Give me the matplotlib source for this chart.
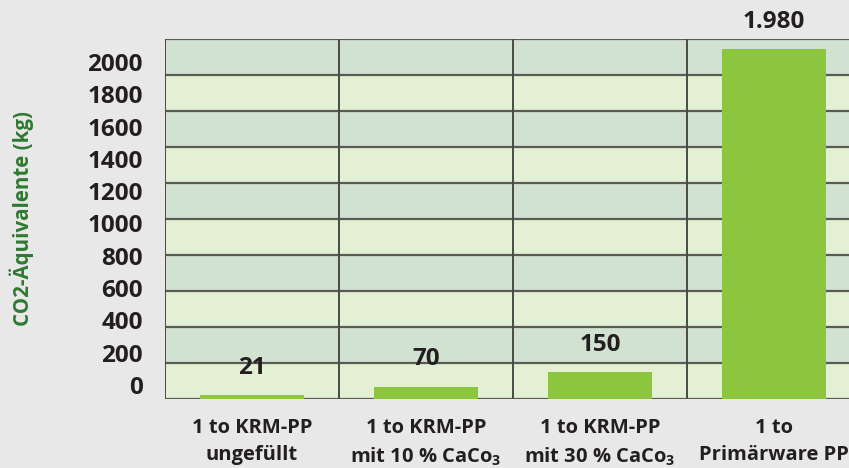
import matplotlib
matplotlib.use("Agg")
import matplotlib.pyplot as plt
import numpy as np

categories = ["1 to KRM-PP\nungefüllt", "1 to KRM-PP\nmit 10 % CaCo$_{\\mathbf{3}}$",
              "1 to KRM-PP\nmit 30 % CaCo$_{\\mathbf{3}}$", "1 to\nPrimärware PP"]
values = [21, 70, 150, 1980]
value_labels = ["21", "70", "150", "1.980"]
tick_values = list(range(0, 2001, 200))

FONT = ["Open Sans", "DejaVu Sans"]
plt.rcParams["font.family"] = FONT
plt.rcParams["font.weight"] = "bold"
plt.rcParams["mathtext.fontset"] = "custom"
plt.rcParams["mathtext.rm"] = "Open Sans:bold"
plt.rcParams["mathtext.bf"] = "Open Sans:bold"
plt.rcParams["mathtext.it"] = "Open Sans:bold"

W, H = 849, 468
fig = plt.figure(figsize=(W / 100, H / 100), dpi=100)
fig.patch.set_facecolor("#e8e8e8")

left, right, top, bottom = 165, 861, 39, 399
ax = fig.add_axes([left / W, 1 - bottom / H, (right - left) / W, (bottom - top) / H])
ax.set_facecolor("#e3f0d4")

ymax = 1980 * 360 / 350
ax.set_ylim(0, ymax)
ax.set_xlim(-0.5, len(categories) - 0.5)

# bands
nb = 10
for i in range(nb):
    y0 = i / nb
    color = "#d2e2d0" if i % 2 == 1 else "#e3f0d4"
    ax.axhspan(y0 * ymax, (y0 + 1 / nb) * ymax, color=color, zorder=0, lw=0)
for i in range(nb + 1):
    ax.axhline((i / nb) * ymax, color="#5a5a55", lw=1.6, zorder=1)
for i in range(len(categories) + 1):
    ax.axvline(i - 0.5, color="#4a4a45", lw=1.4, zorder=1)

x = np.arange(len(categories))
ax.bar(x, values, width=0.6, color="#8cc63f", zorder=2)
for xi, v, lab in zip(x, values, value_labels):
    ax.annotate(lab, (xi, v), xytext=(0, 11), textcoords="offset points",
                ha="center", va="bottom", fontsize=17.5, fontweight="bold",
                color="#231f20", annotation_clip=False)

for s in ax.spines.values():
    s.set_visible(False)
ax.set_yticks([])
ax.set_xticks(x)
ax.set_xticklabels(categories, fontsize=14.5, fontweight="bold", color="#231f20",
                   linespacing=1.45)
ax.tick_params(axis="x", length=0, pad=14)

# tick label axis
ax2 = ax.twinx()
per_px = 2000 / (385 - 62)
lo = -(bottom - 385) * per_px
hi = 2000 + (62 - top) * per_px
ax2.set_ylim(lo, hi)
ax2.yaxis.tick_left()
ax2.set_yticks(tick_values)
ax2.set_yticklabels([str(t) for t in tick_values], fontsize=17.5, fontweight="bold",
                    color="#231f20")
ax2.tick_params(axis="y", length=0, pad=16)
for s in ax2.spines.values():
    s.set_visible(False)
ax2.patch.set_visible(False)

fig.text(22 / W, 1 - 218 / H, "CO2-Äquivalente (kg)", rotation=90, ha="center",
         va="center", fontsize=14.8, fontweight="bold", color="#2e7a32")

fig.savefig("out.png", dpi=100, facecolor=fig.get_facecolor())
